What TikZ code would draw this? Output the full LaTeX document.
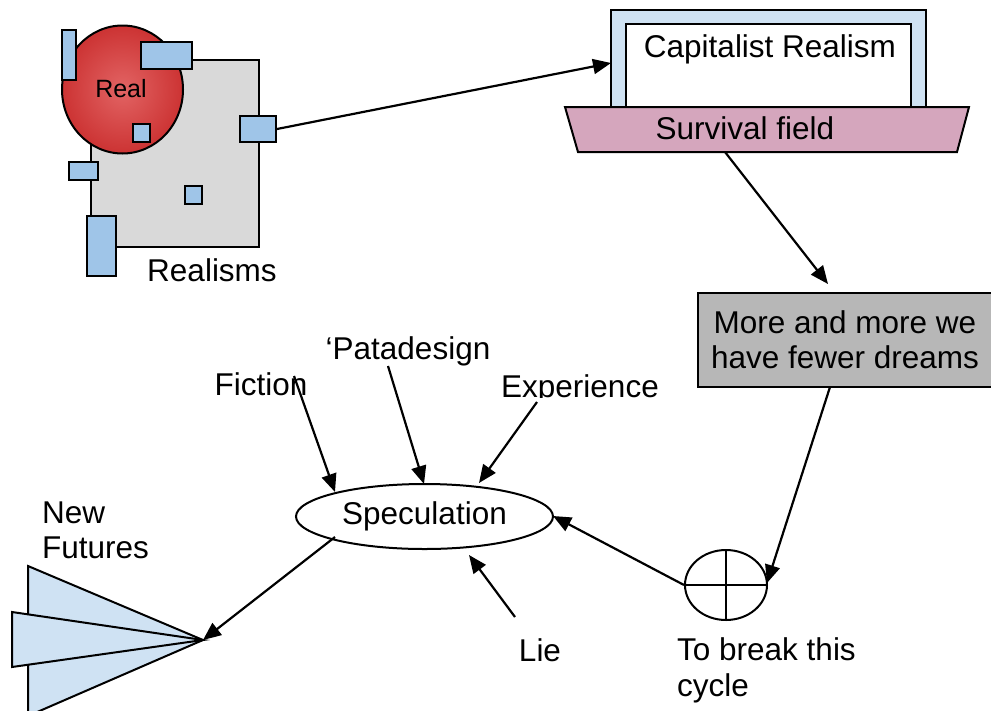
\documentclass[tikz,border=0pt]{standalone}
\usepackage{fontspec}
\setmainfont{Liberation Sans}
\usetikzlibrary{arrows.meta,shapes.geometric}
\definecolor{bluebox}{HTML}{9FC5E8}
\definecolor{lightblue}{HTML}{CFE2F3}
\definecolor{graysq}{HTML}{D9D9D9}
\definecolor{darkgray}{HTML}{B7B7B7}
\definecolor{pinkish}{HTML}{D5A6BD}
\definecolor{redout}{HTML}{CC3333}
\definecolor{redin}{HTML}{E26464}
\tikzset{
  outl/.style={draw=black, line width=2pt},
  bl/.style={outl, fill=bluebox},
  arr/.style={draw=black, line width=2.2pt, -{Triangle[length=18pt,width=15pt]}},
  lbl/.style={font=\fontsize{31.5}{35}\selectfont, inner sep=0pt},
}
\begin{document}
\begin{tikzpicture}[x=1pt,y=-1pt]
\useasboundingbox (0,0) rectangle (991,710);
% Realisms
\draw[outl, fill=graysq] (91,60) rectangle (259,247);
\shade[inner color=redin, outer color=redout, draw=black, line width=2pt] (122.5,89.5) ellipse [x radius=60.5, y radius=64];
\node[font=\fontsize{25}{28}\selectfont, inner sep=0pt] (real) at (121,89) {Real};
\draw[bl] (62,30) rectangle (76,80);
\draw[bl] (141,42) rectangle (192,69);
\draw[bl] (133,124) rectangle (150,142);
\node[bl, minimum width=36pt, minimum height=26pt, inner sep=0pt] (r4) at (258,129) {};
\draw[bl] (69,162) rectangle (98,180);
\draw[bl] (185,186) rectangle (202,204);
\draw[bl] (87,216) rectangle (116,276);
\node[lbl] (realisms) at (212,270) {Realisms};
% Capitalist realism
\draw[outl, fill=lightblue] (611,108) -- (611,10) -- (926,10) -- (926,108);
\draw[outl, fill=white] (626,108) -- (626,24) -- (911,24) -- (911,108);
\node[lbl] (cap) at (770,49) {Capitalist Realism};
\coordinate (capin) at (611,63);
\draw[outl, fill=pinkish] (565,107) -- (969,107) -- (957,152) -- (578,152) -- cycle;
\node[lbl] (surv) at (745,128) {Survival field};
\coordinate (survout) at (725,152);
% Gray box
\node[outl, fill=darkgray, minimum width=295pt, minimum height=94pt, inner sep=0pt, align=center,
      font=\fontsize{31.5}{35}\selectfont] (dreams) at (845,340) {More and more we\\have fewer dreams};
% cycle circle
\node[outl, ellipse, minimum width=82pt, minimum height=70pt, inner sep=0pt] (cyc) at (726,585) {};
\draw[outl] (cyc.north) -- (cyc.south);
\draw[outl] (cyc.west) -- (cyc.east);
\node[lbl, align=left, anchor=north west, font=\fontsize{31.5}{36}\selectfont] (brk) at (677,637) {To break this\\cycle};
% Speculation
\node[outl, ellipse, minimum width=257pt, minimum height=65pt, inner sep=0pt, font=\fontsize{31.5}{35}\selectfont] (spec) at (424.5,516.5) {Speculation};
\node[lbl] (fict) at (261,384) {Fiction};
\node[lbl] (pata) at (408,351) {`Patadesign};
\begin{scope}
\clip (450,360) rectangle (700,397);
\node[lbl] (exper) at (580,389) {Experience};
\end{scope}
\node[lbl] (lie) at (540,650) {Lie};
\node[lbl, align=left, anchor=north west, font=\fontsize{31.5}{35}\selectfont] (newf) at (42,502) {New\\Futures};
% airplane
\coordinate (tip) at (203,640);
\draw[outl, fill=lightblue] (28,566) -- (tip) -- (28,716) -- cycle;
\draw[outl, fill=lightblue] (12,612) -- (tip) -- (12,667) -- cycle;
% arrows
\draw[arr] (r4.east) -- (capin);
\draw[arr] (survout) -- (828,284);
\draw[arr] (830,387) -- (767,583);
\draw[arr] (cyc.west) -- (553,516);
\draw[arr] (294,376) -- (335,492);
\draw[arr] (388,366) -- (424,484);
\draw[arr] (537,402) -- (479,483);
\draw[arr] (515,617) -- (469,555);
\draw[arr] (335,537) -- (tip);
\end{tikzpicture}
\end{document}
